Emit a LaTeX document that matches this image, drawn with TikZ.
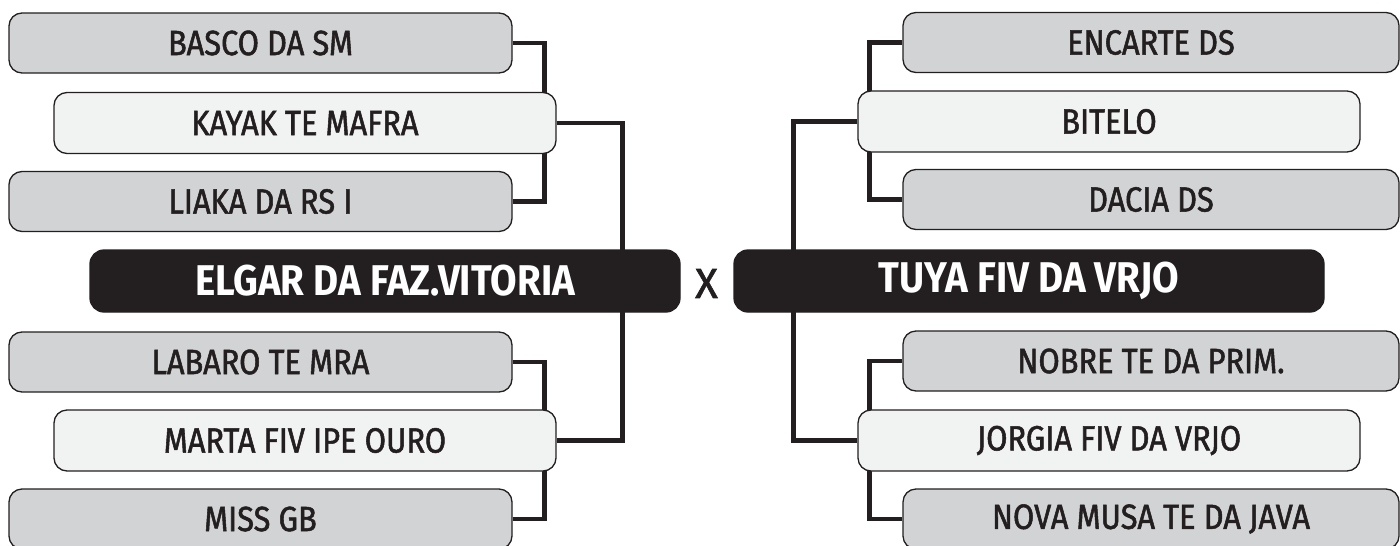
\documentclass[tikz,border=0pt]{standalone}
\usepackage{fontspec}
\setmainfont{Fira Sans}[FakeStretch=0.895]
\newfontfamily\teamfont{Fira Sans}[FakeStretch=0.88, FakeBold=1.5]
\newfontfamily\vsfont{Fira Sans}[FakeStretch=1.0, FakeBold=1.5]
\usetikzlibrary{backgrounds}
\definecolor{boxgray}{HTML}{D1D3D4}
\definecolor{boxlight}{HTML}{F1F2F2}
\definecolor{ink}{HTML}{231F20}
\tikzset{
  team/.style={draw=ink, line width=1.3pt, rounded corners=13pt, fill=boxgray,
    minimum height=60pt, inner sep=0pt, text=ink, font=\teamfont\fontsize{35}{35}\selectfont},
  teamw/.style={team, minimum width=503pt},
  semi/.style={team, fill=boxlight, minimum width=502pt, minimum height=61pt},
  final/.style={draw=ink, fill=ink, line width=1.3pt, rounded corners=14pt, minimum width=590pt,
    minimum height=62pt, inner sep=0pt, text=white, font=\fontsize{43}{43}\selectfont\bfseries},
  link/.style={draw=ink, line width=4.8pt, line join=miter}
}
\begin{document}
\begin{tikzpicture}[x=1pt, y=-1pt]
\useasboundingbox (0,0) rectangle (1400,546);
% left side
\node[teamw] (basco) at (260.5,43) {BASCO DA SM};
\node[semi] (kayak) at (305,123) {KAYAK TE MAFRA};
\node[teamw] (liaka) at (260.5,201.5) {LIAKA DA RS I};
\node[final] (elgar) at (385,281) {ELGAR DA FAZ.VITORIA};
\node[teamw] (labaro) at (260.5,362) {LABARO TE MRA};
\node[semi] (marta) at (305,440.5) {MARTA FIV IPE OURO};
\node[teamw] (missgb) at (260.5,519) {MISS GB};
% middle
\node[text=ink, font=\vsfont\fontsize{42}{42}\selectfont, inner sep=0pt] (vs) at (706.5,283.5) {X};
% right side
\node[team, minimum width=496pt] (encarte) at (1151,42.5) {ENCARTE DS};
\node[semi] (bitelo) at (1109,121.5) {BITELO};
\node[team, minimum width=496pt] (dacia) at (1151,199.5) {DACIA DS};
\node[final] (tuya) at (1029,281) {TUYA FIV DA VRJO};
\node[team, minimum width=496pt] (nobre) at (1151,361) {NOBRE TE DA PRIM.};
\node[semi] (jorgia) at (1109,440.5) {JORGIA FIV DA VRJO};
\node[team, minimum width=496pt] (nova) at (1151,519) {NOVA MUSA TE DA JAVA};
\begin{pgfonlayer}{background}
\path[link] (basco.east) -- ++(32,0) |- (liaka.east);
\path[link] (labaro.east) -- ++(32,0) |- (missgb.east);
\path[link] (kayak.east) -- ++(66,0) |- (marta.east);
\path[link] (encarte.west) -- ++(-33,0) |- (dacia.west);
\path[link] (nobre.west) -- ++(-33,0) |- (nova.west);
\path[link] (bitelo.west) -- ++(-64,0) |- (jorgia.west);
\end{pgfonlayer}
\end{tikzpicture}
\end{document}
